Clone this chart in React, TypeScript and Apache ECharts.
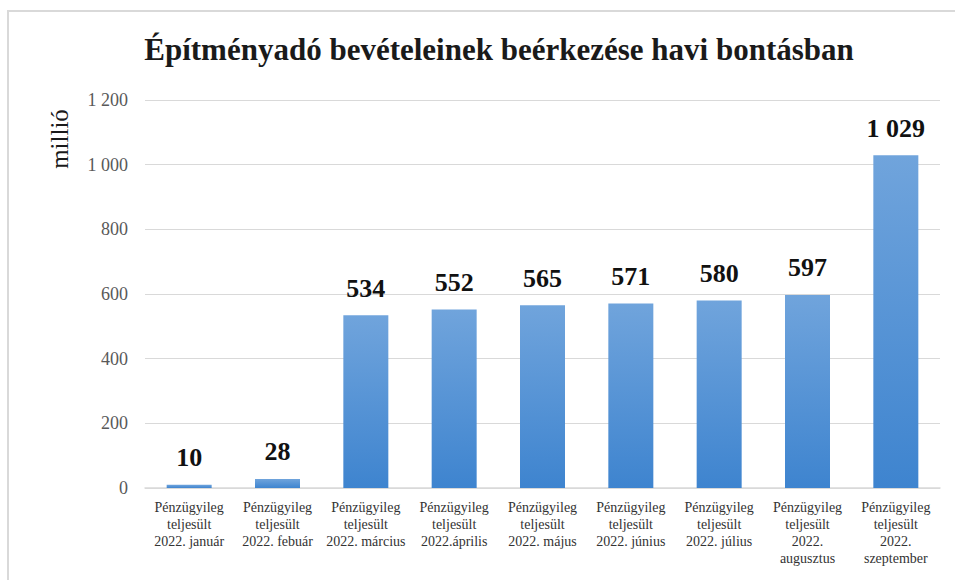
import React, { useEffect, useRef } from "react";
import * as echarts from "echarts";

const categories = [
  "Pénzügyileg\nteljesült\n2022. január",
  "Pénzügyileg\nteljesült\n2022. febuár",
  "Pénzügyileg\nteljesült\n2022. március",
  "Pénzügyileg\nteljesült\n2022.április",
  "Pénzügyileg\nteljesült\n2022. május",
  "Pénzügyileg\nteljesült\n2022. június",
  "Pénzügyileg\nteljesült\n2022. július",
  "Pénzügyileg\nteljesült\n2022.\naugusztus",
  "Pénzügyileg\nteljesült\n2022.\nszeptember",
];
const values = [10, 28, 534, 552, 565, 571, 580, 597, 1029];
const title = "Építményadó bevételeinek beérkezése havi bontásban";
const yAxisName = "millió";

const fmt = (v: number) => {
  const s = String(Math.round(v));
  return s.replace(/\B(?=(\d{3})+(?!\d))/g, " ");
};

const SERIF = "'Liberation Serif', 'Times New Roman', serif";

export default function App() {
  const ref = useRef<HTMLDivElement>(null);
  useEffect(() => {
    document.body.style.margin = "0";
    const chart = echarts.init(ref.current!, null, { renderer: "svg" });
    chart.setOption({
      animation: false,
      backgroundColor: "#ffffff",
      textStyle: { fontFamily: SERIF },
      title: {
        text: title,
        left: 494,
        textAlign: "center",
        top: 29,
        textStyle: {
          fontFamily: SERIF,
          fontSize: 31,
          fontWeight: "bold",
          color: "#1a1a1a",
        },
      },
      graphic: [
        {
          type: "rect",
          shape: { x: 8, y: 11, width: 970, height: 600 },
          style: { fill: "none", stroke: "#d9d9d9", lineWidth: 2 },
          silent: true,
        },
        {
          type: "text",
          x: 59,
          y: 139,
          rotation: Math.PI / 2,
          style: {
            text: yAxisName,
            fontFamily: SERIF,
            fontSize: 25,
            fill: "#1a1a1a",
            align: "center",
            verticalAlign: "middle",
          },
        },
      ],
      grid: { left: 145, right: 15, top: 100, bottom: 92, containLabel: false },
      xAxis: {
        type: "category",
        data: categories,
        axisLine: { lineStyle: { color: "#d9d9d9", width: 1.5 } },
        axisTick: { show: false },
        axisLabel: {
          interval: 0,
          fontFamily: SERIF,
          fontSize: 14,
          lineHeight: 17,
          color: "#333333",
          margin: 11,
        },
      },
      yAxis: {
        type: "value",
        min: 0,
        max: 1200,
        interval: 200,
        axisLine: { show: false },
        axisTick: { show: false },
        splitLine: { lineStyle: { color: "#d9d9d9", width: 1.2 } },
        axisLabel: {
          formatter: (v: number) => fmt(v),
          fontFamily: SERIF,
          fontSize: 18,
          color: "#595959",
          margin: 17,
        },
      },
      series: [
        {
          type: "bar",
          data: values,
          barWidth: 45,
          itemStyle: {
            color: new echarts.graphic.LinearGradient(0, 0, 0, 1, [
              { offset: 0, color: "#70a4dc" },
              { offset: 1, color: "#3e84cf" },
            ]),
          },
          label: {
            show: true,
            position: "top",
            distance: 14,
            formatter: (p: any) => fmt(p.value),
            fontFamily: SERIF,
            fontSize: 26,
            fontWeight: "bold",
            color: "#111111",
          },
        },
      ],
    });
    return () => chart.dispose();
  }, []);
  return <div ref={ref} style={{ width: 955, height: 580 }} />;
}
